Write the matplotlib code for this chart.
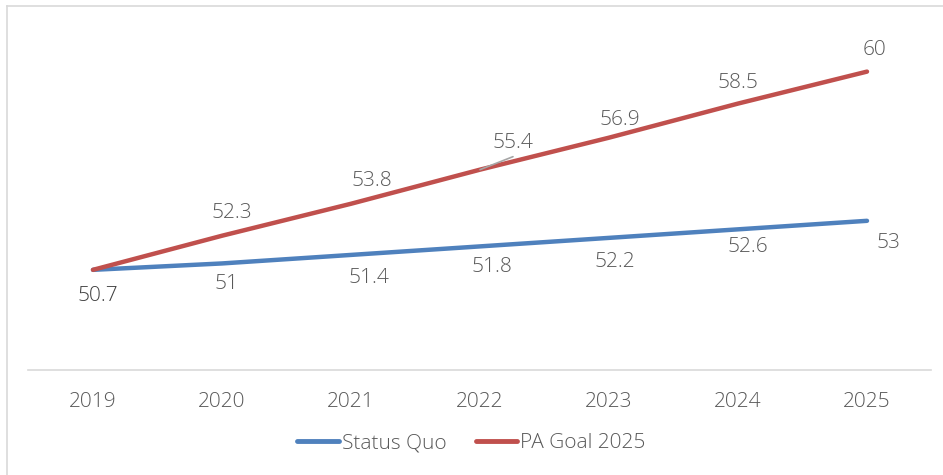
import matplotlib
matplotlib.use("Agg")
import matplotlib.pyplot as plt
from matplotlib.lines import Line2D

years = ["2019", "2020", "2021", "2022", "2023", "2024", "2025"]
status_quo = [50.7, 51, 51.4, 51.8, 52.2, 52.6, 53]
pa_goal = [50.7, 52.3, 53.8, 55.4, 56.9, 58.5, 60]
sq_labels = ["50.7", "51", "51.4", "51.8", "52.2", "52.6", "53"]
pa_labels = ["", "52.3", "53.8", "55.4", "56.9", "58.5", "60"]

# label offsets in pixels (hand placed like in the original)
sq_off = [(5, -26), (5, -21), (18, -23), (12, -21), (6, -24), (10, -18), (21, -22)]
pa_off = [(0, 0), (10, 23), (21, 23), (33, 27), (11, 18), (0, 21), (8, 22)]

plt.rcParams['font.family'] = ['Open Sans', 'DejaVu Sans']
txt = '#595959'
blue = '#4F81BD'
red = '#C0504D'
fs = 15

fig = plt.figure(figsize=(9.43, 4.75), dpi=100)
ax = fig.add_axes([0.0302, 0.221, 0.9576, 0.718])

x = list(range(len(years)))
ax.plot(x, status_quo, color=blue, lw=3.2, solid_capstyle='round', label='Status Quo', zorder=3)
ax.plot(x, pa_goal, color=red, lw=3.2, solid_capstyle='round', label='PA Goal 2025', zorder=4)

for i, v in enumerate(status_quo):
    ax.annotate(sq_labels[i], (i, v), xytext=sq_off[i], textcoords='offset pixels',
                ha='center', va='center', fontsize=fs, fontweight='light',
                color='#404040' if i == 0 else txt)
for i, v in enumerate(pa_goal):
    if pa_labels[i]:
        ax.annotate(pa_labels[i], (i, v), xytext=pa_off[i], textcoords='offset pixels',
                    ha='center', va='center', fontsize=fs, fontweight='light', color=txt)

# small leader line under 55.4
ax.annotate('', xy=(3, pa_goal[3]), xytext=(33, 13), textcoords='offset pixels',
            arrowprops=dict(arrowstyle='-', color='#a6a6a6', lw=1.2, shrinkA=0, shrinkB=0),
            zorder=5)

ax.set_xlim(-0.5, 6.5)
ax.set_ylim(46, 62)
ax.set_xticks(x)
ax.set_xticklabels(years, fontsize=fs, color=txt, fontweight='light')
ax.set_yticks([])
ax.tick_params(axis='x', length=0, pad=16)
for s in ['top', 'right', 'left']:
    ax.spines[s].set_visible(False)
ax.spines['bottom'].set_color('#d9d9d9')
ax.spines['bottom'].set_linewidth(1.2)

handles = [Line2D([0], [0], color=blue, lw=3.5, solid_capstyle='round'),
           Line2D([0], [0], color=red, lw=3.5, solid_capstyle='round')]
leg = fig.legend(handles, ['Status Quo', 'PA Goal 2025'], loc='center',
                 bbox_to_anchor=(0.5, 1 - 443 / 475), ncol=2, frameon=False,
                 prop={'size': fs, 'weight': 'light'},
                 handlelength=2.0, handletextpad=0.15, columnspacing=1.4)
for t in leg.get_texts():
    t.set_color(txt)

# light border on the left and top of the chart area
fig.add_artist(Line2D([7 / 943, 7 / 943], [0, 1 - 6 / 475], color='#d9d9d9', lw=1.2,
                      transform=fig.transFigure))
fig.add_artist(Line2D([7 / 943, 1], [1 - 6 / 475, 1 - 6 / 475], color='#d9d9d9', lw=1.2,
                      transform=fig.transFigure))

fig.savefig('out.png', dpi=100)
